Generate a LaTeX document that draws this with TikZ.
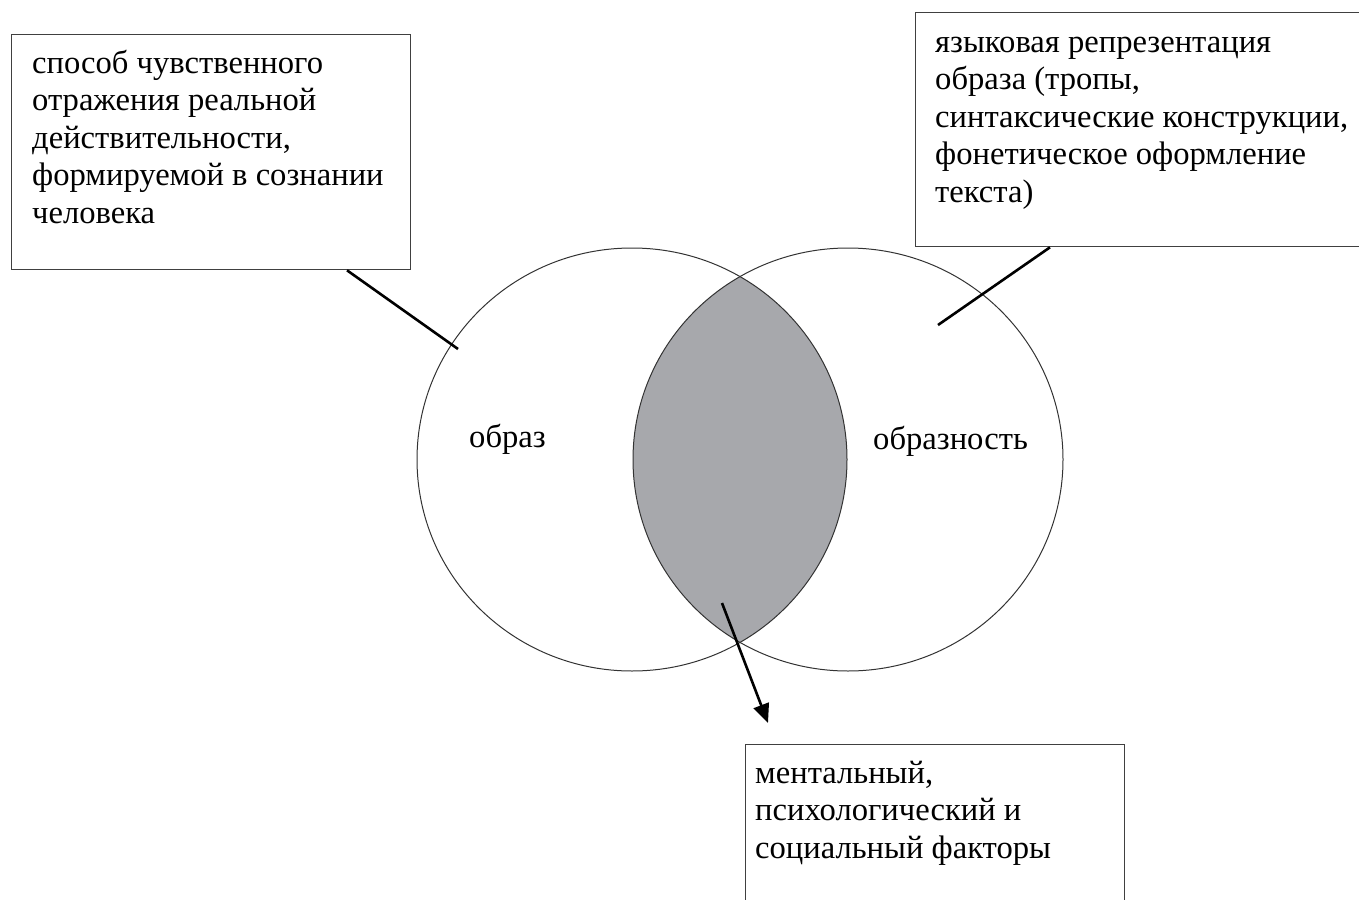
\documentclass[tikz,border=0pt]{standalone}
\usepackage{fontspec}
\setmainfont{Liberation Serif}
\usetikzlibrary{shapes.geometric,arrows.meta,positioning}

\begin{document}
\begin{tikzpicture}[x=1pt,y=-1pt,
   box/.style={draw=black!75,line width=1.3pt,anchor=north west,inner sep=0pt},
   txt/.style={anchor=base west,align=left,inner sep=0pt,font=\fontsize{32.6}{37.5}\selectfont},
   ring/.style={ellipse,draw=black!80,line width=1pt,minimum width=430pt,minimum height=423pt,inner sep=0pt},
   pin/.style={line width=2.6pt}]
   \useasboundingbox (0,0) rectangle (1359,899);
   % the two sets and their common part
   \coordinate (c_l) at (632,459.5);
   \coordinate (c_r) at (848,459.5);
   \begin{scope}
     \clip (c_l) ellipse [x radius=215pt, y radius=211.5pt];
     \fill[fill={rgb,255:red,167;green,168;blue,172}] (c_r) ellipse [x radius=215pt, y radius=211.5pt];
   \end{scope}
   \node[ring] (obraz) at (c_l) {};
   \node[ring] (obraznost) at (c_r) {};
   \node[txt] (l_obraz) at (469,447) {образ};
   \node[txt] (l_obraznost) at (873,449) {образность};
   % the three boxes (texts placed by their last baseline)
   \node[box,minimum width=399pt,minimum height=235pt] (b_left) at (11,34) {};
   \node[txt] (t_left) at (32,223) {способ чувственного\\отражения реальной\\действительности,\\формируемой в сознании\\человека};
   \node[box,minimum width=480pt,minimum height=234pt] (b_right) at (915,12) {};
   \node[txt] (t_right) at (935,202) {языковая репрезентация\\образа (тропы,\\синтаксические конструкции,\\фонетическое оформление\\текста)};
   \node[box,minimum width=379pt,minimum height=200pt] (b_bottom) at (745,744) {};
   \node[txt] (t_bottom) at (755,858) {ментальный,\\психологический и\\социальный факторы};
   % pointers
   \coordinate (p_left) at (458,349);
   \coordinate (p_right) at (938,325);
   \coordinate (p_lens) at (722,603);
   \coordinate (p_bottom) at (768,723);
   \draw[pin] ([xshift=336pt]b_left.south west) -- (p_left);
   \draw[pin] ([xshift=135pt]b_right.south west) -- (p_right);
   \draw[pin,-{Triangle[length=19pt,width=16pt]}] (p_lens) -- (p_bottom);
\end{tikzpicture}
\end{document}
